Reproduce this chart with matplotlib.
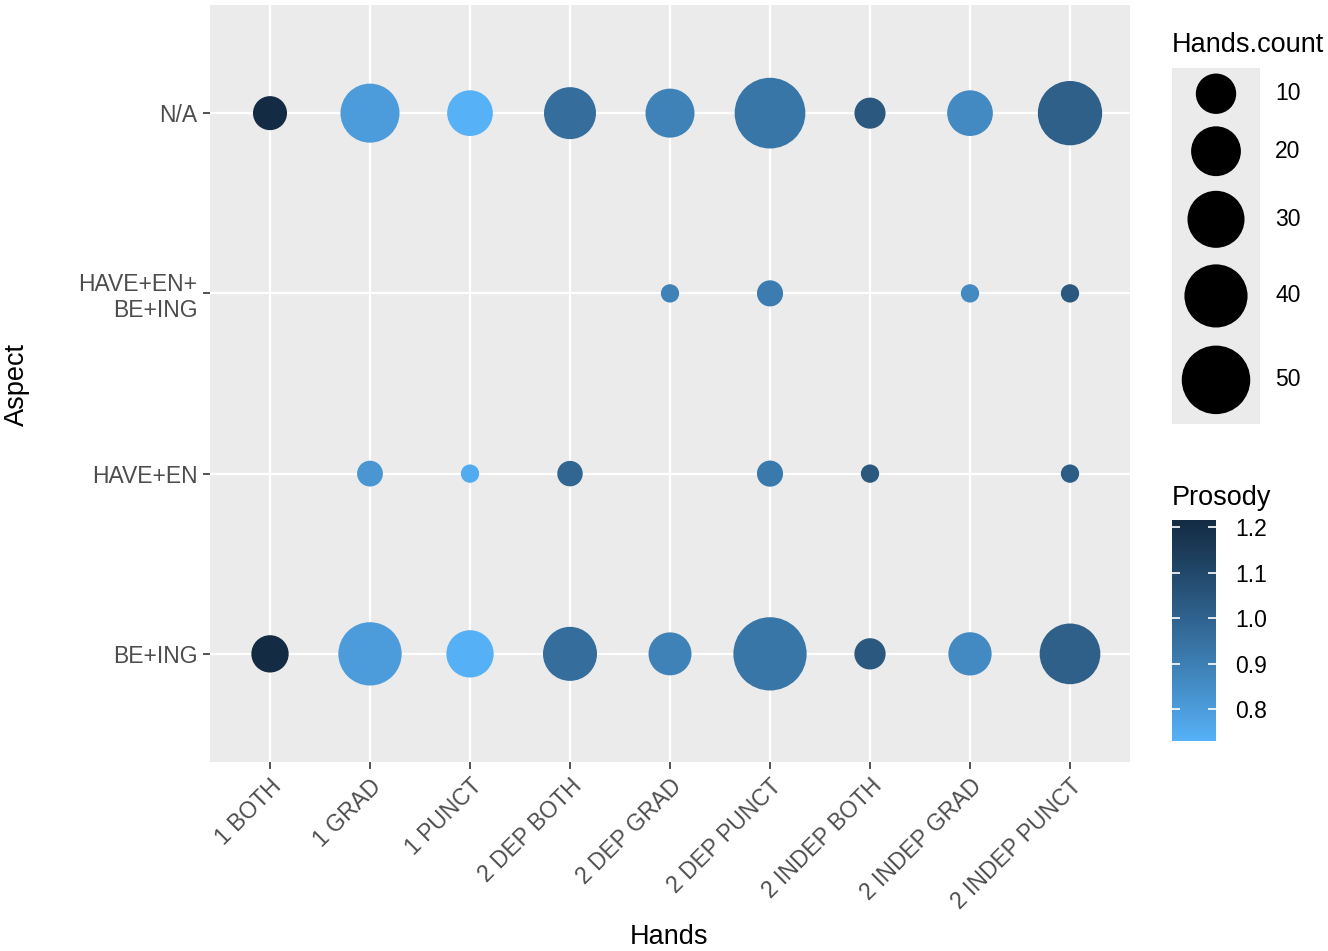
import numpy as np
import matplotlib
matplotlib.use("Agg")
import matplotlib.pyplot as plt
from matplotlib.colors import ListedColormap, Normalize

plt.rcParams['font.family'] = ['Liberation Sans', 'DejaVu Sans']

# ---------------- data ----------------
hands = ["1 BOTH", "1 GRAD", "1 PUNCT", "2 DEP BOTH", "2 DEP GRAD",
         "2 DEP PUNCT", "2 INDEP BOTH", "2 INDEP GRAD", "2 INDEP PUNCT"]
aspects = ["BE+ING", "HAVE+EN", "HAVE+EN+\nBE+ING", "N/A"]

# rows: (aspect, hands, count, prosody)
pt_aspect = (["N/A"] * 9 + ["BE+ING"] * 9 +
             ["HAVE+EN"] * 6 + ["HAVE+EN+\nBE+ING"] * 4)
pt_hands = (hands + hands +
            ["1 GRAD", "1 PUNCT", "2 DEP BOTH", "2 DEP PUNCT", "2 INDEP BOTH", "2 INDEP PUNCT"] +
            ["2 DEP GRAD", "2 DEP PUNCT", "2 INDEP GRAD", "2 INDEP PUNCT"])
pt_count = ([5.2, 33.1, 15.2, 22.8, 19.0, 54.4, 3.5, 15.2, 42.1] +
            [7.5, 40.3, 17.0, 25.6, 12.4, 59.8, 3.6, 12.7, 35.8] +
            [1.3, 0.01, 1.2, 1.4, 0.01, 0.01] +
            [0.01, 1.4, 0.01, 0.01])
pt_prosody = ([1.215, 0.80, 0.731, 0.96, 0.89, 0.93, 1.04, 0.86, 1.01] +
              [1.215, 0.80, 0.735, 0.96, 0.89, 0.93, 1.04, 0.86, 1.01] +
              [0.82, 0.75, 0.99, 0.92, 1.04, 1.02] +
              [0.89, 0.91, 0.86, 1.04])

legend_counts = [10, 20, 30, 40, 50]
cbar_ticks = [0.8, 0.9, 1.0, 1.1, 1.2]

# ---------------- styles / scales ----------------
W, H, DPI = 1328, 951, 100
PANEL_BG = "#EBEBEB"
TXT = "#4D4D4D"
SIZE_OFFSET_PX = 17.6   # diameter (px) at count 0
SIZE_SLOPE_PX = 7.2     # px per sqrt(count)


def diam_px(v):
    return SIZE_OFFSET_PX + SIZE_SLOPE_PX * np.sqrt(np.asarray(v, float))


def s_pts2(v):
    return (diam_px(v) * 72.0 / DPI) ** 2


# CIELAB gradient like ggplot's seq_gradient_pal
def _srgb_to_lab(rgb):
    rgb = np.asarray(rgb, float)
    lin = np.where(rgb <= 0.04045, rgb / 12.92, ((rgb + 0.055) / 1.055) ** 2.4)
    M = np.array([[0.4124564, 0.3575761, 0.1804375],
                  [0.2126729, 0.7151522, 0.0721750],
                  [0.0193339, 0.1191920, 0.9503041]])
    xyz = M @ lin
    wp = np.array([0.95047, 1.0, 1.08883])
    t = xyz / wp
    f = np.where(t > (6 / 29) ** 3, np.cbrt(t), t / (3 * (6 / 29) ** 2) + 4 / 29)
    return np.array([116 * f[1] - 16, 500 * (f[0] - f[1]), 200 * (f[1] - f[2])])


def _lab_to_srgb(lab):
    L, a, b = lab
    fy = (L + 16) / 116
    fx = fy + a / 500
    fz = fy - b / 200
    f = np.array([fx, fy, fz])
    t = np.where(f > 6 / 29, f ** 3, 3 * (6 / 29) ** 2 * (f - 4 / 29))
    xyz = t * np.array([0.95047, 1.0, 1.08883])
    Minv = np.array([[3.2404542, -1.5371385, -0.4985314],
                     [-0.9692660, 1.8760108, 0.0415560],
                     [0.0556434, -0.2040259, 1.0572252]])
    lin = Minv @ xyz
    lin = np.clip(lin, 0, 1)
    rgb = np.where(lin <= 0.0031308, 12.92 * lin, 1.055 * lin ** (1 / 2.4) - 0.055)
    return np.clip(rgb, 0, 1)


def _hex(h):
    h = h.lstrip('#')
    return np.array([int(h[i:i + 2], 16) / 255 for i in (0, 2, 4)])


lab_lo = _srgb_to_lab(_hex("#56B1F7"))
lab_hi = _srgb_to_lab(_hex("#132B43"))
cols = [_lab_to_srgb(lab_lo + (lab_hi - lab_lo) * t) for t in np.linspace(0, 1, 256)]
cmap = ListedColormap(cols)
norm = Normalize(vmin=min(pt_prosody), vmax=max(pt_prosody))

# ---------------- figure ----------------
fig = plt.figure(figsize=(W / DPI, H / DPI), dpi=DPI)


def px_axes(x0, y0, x1, y1):
    return fig.add_axes([x0 / W, 1 - y1 / H, (x1 - x0) / W, (y1 - y0) / H])


ax = px_axes(210, 5, 1130, 762)
ax.set_facecolor(PANEL_BG)
for sp in ax.spines.values():
    sp.set_visible(False)

xi = [hands.index(h) for h in pt_hands]
yi = [aspects.index(a) for a in pt_aspect]
ax.scatter(xi, yi, s=s_pts2(pt_count), c=pt_prosody, cmap=cmap, norm=norm,
           edgecolors='none', zorder=3)

ax.set_xlim(-0.6, len(hands) - 1 + 0.6)
ax.set_ylim(-0.6, len(aspects) - 1 + 0.6)
ax.set_xticks(range(len(hands)))
ax.set_xticklabels(hands, rotation=45, ha='right', va='top', rotation_mode='anchor')
ax.set_yticks(range(len(aspects)))
ax.set_yticklabels(aspects, ha='right', multialignment='right', linespacing=1.15)
ax.grid(True, color='white', linewidth=1.6, zorder=0)
ax.set_axisbelow(True)
ax.tick_params(axis='both', colors='#333333', length=5, width=1.2, labelsize=16.5,
               labelcolor=TXT, pad=4)

fig.text(669 / W, 1 - 944 / H, "Hands", ha='center', va='baseline', fontsize=19.5, color='black')
fig.text(17 / W, 1 - 385 / H, "Aspect", ha='center', va='center', rotation=90,
         fontsize=19.5, color='black')

# ---------------- size legend ----------------
fig.text(1172 / W, 1 - 52 / H, "Hands.count", ha='left', va='baseline', fontsize=19.5)
key_x0, key_x1, key_y0 = 1172, 1260, 68
heights = 1.275 * diam_px(legend_counts)
key_y1 = key_y0 + heights.sum()
lax = px_axes(key_x0, key_y0, key_x1, key_y1)
lax.set_facecolor(PANEL_BG)
lax.set_xlim(key_x0, key_x1)
lax.set_ylim(key_y1, key_y0)
lax.set_xticks([])
lax.set_yticks([])
for sp in lax.spines.values():
    sp.set_visible(False)
centers = key_y0 + np.cumsum(heights) - heights / 2
lax.scatter(np.full(len(legend_counts), (key_x0 + key_x1) / 2), centers,
            s=s_pts2(legend_counts), color='black', edgecolors='none', clip_on=False)
for c, v in zip(centers, legend_counts):
    fig.text(1275 / W, 1 - c / H, str(v), ha='left', va='center', fontsize=16.5)

# ---------------- colour bar ----------------
fig.text(1172 / W, 1 - 505 / H, "Prosody", ha='left', va='baseline', fontsize=19.5)
cax = px_axes(1172, 520, 1216, 741)
sm = matplotlib.cm.ScalarMappable(norm=norm, cmap=cmap)
cb = fig.colorbar(sm, cax=cax, ticks=cbar_ticks)
cb.outline.set_visible(False)
cb.ax.set_yticklabels([f"{t:.1f}" for t in cbar_ticks])
cax.yaxis.set_ticks_position('both')
cax.tick_params(axis='y', direction='in', color='white', length=6, width=1.2,
                labelsize=16.5, labelcolor='black', pad=14, left=True, right=True,
                labelleft=False, labelright=True)

fig.savefig("out.png", dpi=DPI)
